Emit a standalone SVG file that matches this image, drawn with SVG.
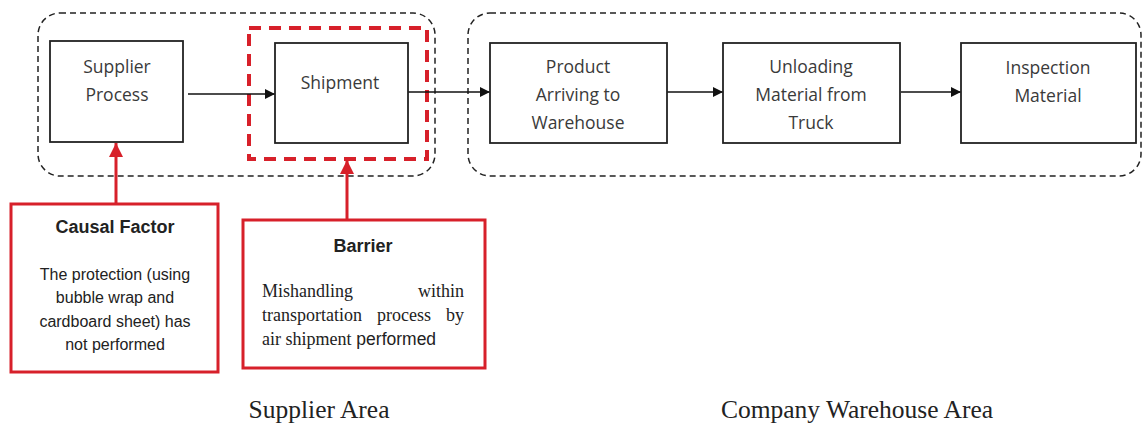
<svg xmlns="http://www.w3.org/2000/svg" width="1143" height="424" viewBox="0 0 1143 424">
<style>
.area{fill:none;stroke:#222;stroke-width:1.5;stroke-dasharray:6 4}
.box{fill:#fff;stroke:#222;stroke-width:1.8}
.lbl{font-family:"Open Sans","Noto Sans",sans-serif;font-size:17.5px;fill:#3a3a3a;text-anchor:middle}
.rbox{fill:#fff;stroke:#d7202a;stroke-width:3}
.title{font-family:"Liberation Sans",Arial,sans-serif;font-weight:bold;font-size:18px;fill:#222;text-anchor:middle}
.body{font-family:"Liberation Sans",Arial,sans-serif;font-size:16px;fill:#222;text-anchor:middle}
.serif{font-family:"Liberation Serif","Times New Roman",serif;font-size:18px;fill:#222}
.end{text-anchor:end}
.mid{text-anchor:middle}
.area-lbl{font-family:"Liberation Serif","Times New Roman",serif;font-size:25.5px;fill:#222;text-anchor:middle}
.conn{fill:none;stroke:#111;stroke-width:1.6}
.rconn{fill:none;stroke:#d7202a;stroke-width:3}
</style>
<defs>
<marker id="ah" viewBox="0 0 10 10" refX="10" refY="5" markerWidth="10" markerHeight="10" markerUnits="userSpaceOnUse" orient="auto">
<path d="M0,0 L10,5 L0,10 z" fill="#111"/>
</marker>
<marker id="rah" viewBox="0 0 14 14" refX="14" refY="7" markerWidth="14" markerHeight="14" markerUnits="userSpaceOnUse" orient="auto">
<path d="M0,0 L14,7 L0,14 z" fill="#d7202a"/>
</marker>
</defs>

<g id="supplier-area">
<rect class="area" x="38" y="13" width="397" height="163" rx="22"/>
<text class="area-lbl" x="319" y="418">Supplier Area</text>
</g>
<g id="warehouse-area">
<rect class="area" x="468" y="13" width="673" height="163" rx="22"/>
<text class="area-lbl" x="857" y="418">Company Warehouse Area</text>
</g>

<g id="barrier-highlight">
<rect x="249" y="28" width="178" height="131" fill="none" stroke="#d7202a" stroke-width="4" stroke-dasharray="12 8"/>
</g>

<g id="connectors">
<line class="conn" x1="188" y1="94" x2="275" y2="94" marker-end="url(#ah)"/>
<line class="conn" x1="403" y1="92" x2="490" y2="92" marker-end="url(#ah)"/>
<line class="conn" x1="667" y1="92" x2="723" y2="92" marker-end="url(#ah)"/>
<line class="conn" x1="901" y1="92" x2="961" y2="92" marker-end="url(#ah)"/>
<line class="rconn" x1="116" y1="204" x2="116" y2="143" marker-end="url(#rah)"/>
<line class="rconn" x1="347" y1="220" x2="347" y2="160" marker-end="url(#rah)"/>
</g>

<g id="supplier-process">
<rect class="box" x="50" y="41" width="133" height="101"/>
<text class="lbl" x="117" y="73">Supplier</text>
<text class="lbl" x="117" y="101">Process</text>
</g>
<g id="shipment">
<rect class="box" x="275" y="43" width="133" height="100" fill="none"/>
<text class="lbl" x="340" y="89">Shipment</text>
</g>
<g id="product-arriving">
<rect class="box" x="490" y="43" width="177" height="100"/>
<text class="lbl" x="578" y="73">Product</text>
<text class="lbl" x="578" y="101">Arriving to</text>
<text class="lbl" x="578" y="129">Warehouse</text>
</g>
<g id="unloading">
<rect class="box" x="723" y="43" width="177" height="100"/>
<text class="lbl" x="811" y="73">Unloading</text>
<text class="lbl" x="811" y="101">Material from</text>
<text class="lbl" x="811" y="129">Truck</text>
</g>
<g id="inspection">
<rect class="box" x="961" y="43" width="175" height="100"/>
<text class="lbl" x="1048" y="74">Inspection</text>
<text class="lbl" x="1048" y="102">Material</text>
</g>

<g id="causal-factor">
<rect class="rbox" x="11" y="204" width="207" height="168"/>
<text class="title" x="115" y="233">Causal Factor</text>
<text class="body" x="115" y="280">The protection (using</text>
<text class="body" x="115" y="303">bubble wrap and</text>
<text class="body" x="115" y="327">cardboard sheet) has</text>
<text class="body" x="115" y="350">not performed</text>
</g>
<g id="barrier">
<rect class="rbox" x="243" y="220" width="242" height="148"/>
<text class="title" x="363" y="252">Barrier</text>
<text class="serif" x="262" y="297">Mishandling</text>
<text class="serif end" x="464" y="297">within</text>
<text class="serif" x="262" y="321">transportation</text>
<text class="serif mid" x="404" y="321">process</text>
<text class="serif end" x="464" y="321">by</text>
<text class="serif" x="262" y="345">air shipment<tspan font-family="Liberation Sans, Arial, sans-serif" font-size="17.5px"> performed</tspan></text>
</g>
</svg>
